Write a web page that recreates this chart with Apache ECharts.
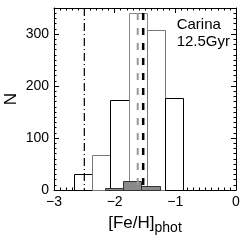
<!DOCTYPE html>
<html><head><meta charset="utf-8">
<script src="https://cdn.jsdelivr.net/npm/echarts@6/dist/echarts.min.js"></script>
<style>html,body{margin:0;padding:0;background:#fff}#c{width:248px;height:240px}</style>
</head><body><div id="c"></div>
<script>
// Open histogram (all stars): bin left edges, bin width, counts
var openBinStart = [-2.67, -2.37, -2.07, -1.77, -1.47, -1.17];
var openCounts = [31, 68, 174, 340, 308, 177];
var binWidth = 0.3;
// Filled grey histogram
var greyBinStart = [-2.16, -1.86, -1.56];
var greyCounts = [3, 17, 7];
// Vertical reference lines
var dashDotX = -2.5;
var greyDashX = -1.62;
var blackDashX = -1.53;
var xTicks = [-3, -2, -1, 0];
var yTicks = [0, 100, 200, 300];
var label1 = 'Carina';
var label2 = '12.5Gyr';

var openEdgeColors = ['#000', '#777', '#000', '#888', '#777', '#000'];
var openData = openBinStart.map(function (s, i) { return [s, s + binWidth, openCounts[i], i]; });
var greyData = greyBinStart.map(function (s, i) { return [s, s + binWidth, greyCounts[i]]; });

function barRender(fill, strokeFn) {
  return function (params, api) {
    var p0 = api.coord([api.value(0), api.value(2)]);
    var p1 = api.coord([api.value(1), 0]);
    return {
      type: 'rect',
      shape: { x: Math.round(p0[0]) + 0.5, y: Math.round(p0[1]) + 0.5, width: Math.round(p1[0]) - Math.round(p0[0]), height: Math.round(p1[1]) - Math.round(p0[1]) },
      style: { fill: fill, stroke: strokeFn(params.dataIndex), lineWidth: 1 }
    };
  };
}
function vline(color, width, dash, offset) {
  return function (params, api) {
    var a = api.coord([api.value(0), 350]);
    var b = api.coord([api.value(0), 0]);
    return {
      type: 'line',
      shape: { x1: a[0], y1: a[1], x2: b[0], y2: b[1] },
      style: { stroke: color, lineWidth: width, lineDash: dash, lineDashOffset: offset }
    };
  };
}
var font = 'Liberation Sans, Arial, sans-serif';
var chart = echarts.init(document.getElementById('c'), null, { renderer: 'canvas' });
var baseX = {
  type: 'value', min: -3, max: 0, interval: 1,
  axisLine: { show: true, onZero: false, lineStyle: { color: '#000', width: 1 } },
  axisTick: { show: true, inside: true, length: 5, lineStyle: { color: '#000' } },
  minorTick: { show: true, splitNumber: 10, length: 2.5, lineStyle: { color: '#000' } },
  splitLine: { show: false }
};
var baseY = {
  type: 'value', min: 0, max: 350, interval: 100,
  axisLine: { show: true, onZero: false, lineStyle: { color: '#000', width: 1 } },
  axisTick: { show: true, inside: true, length: 5, lineStyle: { color: '#000' } },
  minorTick: { show: true, splitNumber: 10, length: 2.5, lineStyle: { color: '#000' } },
  splitLine: { show: false }
};
chart.setOption({
  animation: false,
  backgroundColor: '#fff',
  grid: { left: 54, right: 12, top: 8, bottom: 50, containLabel: false, outerBoundsMode: 'none' },
  xAxis: [
    Object.assign({}, baseX, {
      position: 'bottom',
      axisLabel: { show: true, fontFamily: font, fontSize: 14, color: '#000', margin: 5,
        formatter: function (v) { return xTicks.indexOf(v) >= 0 ? String(v).replace('-', '\u2212') : ''; } },
      name: '{a|[Fe/H]}{b|phot}', nameLocation: 'middle', nameGap: 22, nameMoveOverlap: false,
      nameTextStyle: { rich: { a: { fontFamily: font, fontSize: 17, color: '#000' }, b: { fontFamily: font, fontSize: 14, color: '#000', padding: [9, 0, 0, 0] } } }
    }),
    Object.assign({}, baseX, { position: 'top', axisLabel: { show: false } })
  ],
  yAxis: [
    Object.assign({}, baseY, {
      position: 'left',
      axisLabel: { show: true, fontFamily: font, fontSize: 14, color: '#000', margin: 5, showMaxLabel: false,
        formatter: function (v) { return yTicks.indexOf(v) >= 0 ? String(v) : ''; } },
      name: 'N', nameLocation: 'middle', nameGap: 34, nameRotate: 90, nameMoveOverlap: false,
      nameTextStyle: { fontFamily: font, fontSize: 17, color: '#000' }
    }),
    Object.assign({}, baseY, { position: 'right', axisLabel: { show: false } })
  ],
  graphic: [
    { type: 'text', right: 18, top: 16, style: { text: label1 + '\n' + label2, font: '15px ' + font, fill: '#000', align: 'right', lineHeight: 17 } }
  ],
  series: [
    { type: 'custom', renderItem: barRender('#fff', function (i) { return openEdgeColors[i]; }), data: openData, encode: { x: [0, 1], y: 2 }, z: 1 },
    { type: 'custom', renderItem: barRender('#8a8a8a', function () { return '#333'; }), data: greyData, encode: { x: [0, 1], y: 2 }, z: 2 },
    { type: 'custom', renderItem: vline('#000', 1.2, [8, 3, 1, 3], 0), data: [[dashDotX]], encode: { x: 0 }, z: 3 },
    { type: 'custom', renderItem: vline('#999', 2, [7, 8], 10), data: [[greyDashX]], encode: { x: 0 }, z: 3 },
    { type: 'custom', renderItem: vline('#000', 2.5, [7, 8], 10), data: [[blackDashX]], encode: { x: 0 }, z: 3 }
  ]
});
</script></body></html>
